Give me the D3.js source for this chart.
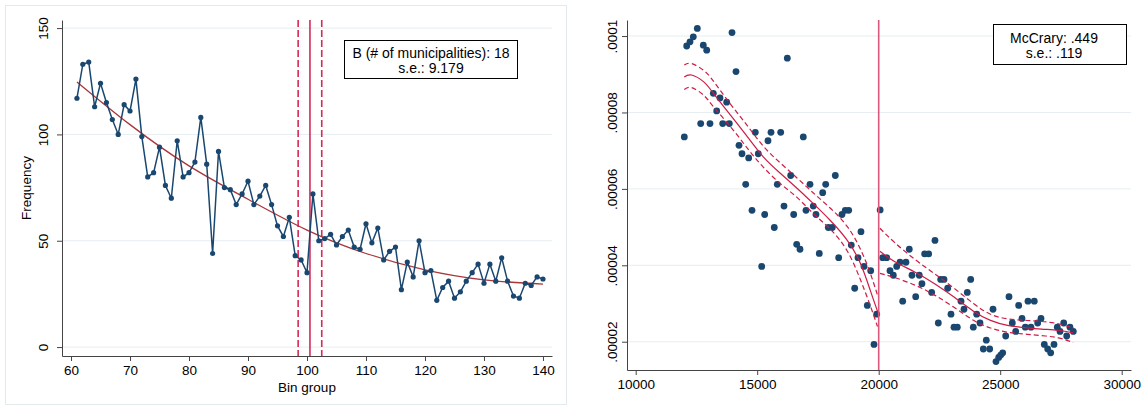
<!DOCTYPE html>
<html>
<head>
<meta charset="utf-8">
<script src="https://cdn.jsdelivr.net/npm/d3@7"></script>
<style>
  body { margin: 0; background: #fff; }
  text { font-family: "Liberation Sans", Arial, sans-serif; font-size: 13.5px; fill: #000; }
  .note { font-size: 14px; }
</style>
</head>
<body>
<div class="chart__container"></div>
<script>
// ---- left panel: frequency by bin group ----
const binGroup = [61, 62, 63, 64, 65, 66, 67, 68, 69, 70, 71, 72, 73, 74, 75, 76, 77, 78, 79, 80,
  81, 82, 83, 84, 85, 86, 87, 88, 89, 90, 91, 92, 93, 94, 95, 96, 97, 98, 99, 100,
  101, 102, 103, 104, 105, 106, 107, 108, 109, 110, 111, 112, 113, 114, 115, 116, 117, 118, 119, 120,
  121, 122, 123, 124, 125, 126, 127, 128, 129, 130, 131, 132, 133, 134, 135, 136, 137, 138, 139, 140];
const frequency = [117, 133, 134, 113, 124, 115, 107, 100, 114, 111, 126, 99, 80, 82, 94, 76, 70, 97, 80, 82,
  87, 108, 86, 44, 92, 75, 74, 67, 72, 78, 67, 71, 76, 67, 57, 52, 61, 43, 41, 35,
  72, 50, 51, 53, 48, 52, 55, 47, 46, 58, 49, 56, 41, 45, 47, 27, 40, 33, 50, 35,
  36, 22, 28, 31, 23, 26, 31, 35, 39, 30, 39, 31, 42, 31, 24, 23, 30, 29, 33, 32];
const fitBin = [61, 70, 80, 90, 100, 110, 120, 130, 140];
const fitFreq = [124.7, 104.6, 85.2, 69.5, 55, 44, 36.3, 31.6, 29.6];
const cutoffBins = [98.5, 100.5, 102.5];
const cutoffDashed = [true, false, true];
const freqTicks = [0, 50, 100, 150];
const binTicks = [60, 70, 80, 90, 100, 110, 120, 130, 140];
const leftNote = ["B (# of municipalities): 18", "s.e.: 9.179"];

// ---- right panel: McCrary density test (density in units of 1e-5) ----
const popX = [12000, 12099, 12234, 12370, 12535, 12675, 12782, 12922, 13057, 13195, 13333, 13469, 13580,
  13745, 13852, 13963, 14127, 14251, 14374, 14527, 14650, 14786, 14922, 15045, 15185, 15308, 15444,
  15568, 15703, 15827, 15967, 16103, 16239, 16378, 16502, 16625, 16761, 16897, 17008, 17173, 17308,
  17419, 17555, 17695, 17819, 17926, 18090, 18214, 18353, 18489, 18625, 18765, 18872, 19012, 19148,
  19271, 19395, 19531, 19670, 19807, 19917,
  20060, 20164, 20329, 20465, 20601, 20741, 20876, 20987, 21122, 21259, 21370, 21523, 21670, 21780,
  21891, 22056, 22180, 22316, 22453, 22551, 22687, 22839, 22975, 23098, 23235, 23387, 23510, 23646,
  23785, 23893, 24033, 24169, 24305, 24428, 24568, 24704, 24827, 24938, 25020, 25102, 25226, 25362,
  25498, 25638, 25761, 25897, 26033, 26144, 26267, 26403, 26543, 26679, 26815, 26955, 27078, 27214,
  27350, 27461, 27613, 27737, 27872, 28008];
const popDens = [7.36, 9.74, 9.85, 9.98, 10.20, 7.71, 9.76, 9.63, 7.71, 8.50, 8.04, 8.38, 7.71,
  8.27, 7.71, 10.09, 9.07, 7.14, 6.92, 6.12, 6.81, 5.44, 7.48, 6.92, 3.97, 5.33, 7.26,
  7.48, 4.99, 6.12, 7.48, 5.55, 9.42, 6.35, 5.33, 4.55, 4.42, 7.36, 5.44, 6.12, 5.55,
  5.33, 4.31, 5.90, 6.12, 4.99, 4.99, 6.35, 4.20, 5.33, 5.44, 5.44, 4.53, 3.40, 4.20,
  4.88, 3.97, 2.95, 3.86, 1.93, 2.72,
  5.45, 4.20, 4.20, 3.86, 3.74, 3.97, 4.08, 3.06, 4.08, 4.42, 3.74, 3.18, 3.74, 3.52,
  4.30, 4.30, 3.29, 4.65, 2.49, 3.63, 3.63, 3.40, 2.72, 2.38, 2.38, 3.06, 2.85, 3.29,
  3.63, 2.38, 2.72, 2.49, 1.81, 2.04, 1.81, 2.85, 1.48, 1.59, 1.65, 1.71, 2.15, 3.18,
  2.49, 2.27, 2.95, 2.61, 2.38, 3.06, 2.38, 3.06, 2.49, 2.61, 1.93, 1.81, 1.71, 1.93,
  2.38, 2.27, 2.49, 2.15, 2.38, 2.27];
const fitLeftX = [12000, 12300, 12800, 13200, 13900, 14600, 15250, 15950, 16650, 17300, 18000, 18700, 19250, 19650, 19950];
const fitLeftMid = [8.93, 8.98, 8.80, 8.50, 7.93, 7.36, 6.84, 6.41, 6.01, 5.62, 5.18, 4.66, 4.05, 3.35, 2.80];
const fitLeftHi = [9.24, 9.28, 9.10, 8.82, 8.22, 7.65, 7.12, 6.68, 6.28, 5.90, 5.50, 5.02, 4.42, 3.80, 3.22];
const fitLeftLo = [8.60, 8.65, 8.45, 8.15, 7.63, 7.06, 6.57, 6.14, 5.77, 5.36, 4.95, 4.38, 3.62, 2.95, 2.40];
const fitRightX = [20050, 20650, 21500, 22300, 23100, 23900, 24600, 25300, 26000, 26700, 27400, 28000];
const fitRightMid = [4.37, 4.10, 3.82, 3.52, 3.17, 2.80, 2.56, 2.43, 2.37, 2.33, 2.30, 2.23];
const fitRightHi = [4.97, 4.60, 4.15, 3.78, 3.40, 3.00, 2.72, 2.60, 2.56, 2.53, 2.47, 2.36];
const fitRightLo = [3.79, 3.68, 3.48, 3.22, 2.90, 2.56, 2.36, 2.25, 2.20, 2.16, 2.10, 1.98];
const cutoffPop = 20000;
const densTicks = [2, 4, 6, 8, 10];
const densLabels = [".00002", ".00004", ".00006", ".00008", ".0001"];
const popTicks = [10000, 15000, 20000, 25000, 30000];
const rightNote = ["McCrary: .449", "s.e.: .119"];

const navy = "#1a476f";
const grid = "#e6eef1";
const axisColor = "#444";

const svg = d3.select(".chart__container")
  .append("svg")
  .attr("width", 1146)
  .attr("height", 410);

function styleAxis(g) {
  g.select(".domain").attr("stroke", axisColor);
  g.selectAll(".tick line").attr("stroke", axisColor);
  g.selectAll("text").style("font-size", "13.5px").attr("fill", "#000");
}

// =================== LEFT ===================
svg.append("rect")
  .attr("x", 5.5).attr("y", 5.5)
  .attr("width", 561).attr("height", 399)
  .attr("fill", "none")
  .attr("stroke", "#e3eaed");

const xL = d3.scaleLinear().domain([58.47, 141.53]).range([62, 552]);
const yL = d3.scaleLinear().domain([-4.2, 153.8]).range([356, 20]);

const left = svg.append("g");

// grid
left.append("g")
  .selectAll("line")
  .data(freqTicks)
  .enter()
  .append("line")
  .attr("x1", xL.range()[0]).attr("x2", xL.range()[1])
  .attr("y1", (d) => yL(d)).attr("y2", (d) => yL(d))
  .attr("stroke", grid);

const yAxisL = left.append("g")
  .attr("transform", `translate(${xL.range()[0]},0)`)
  .call(d3.axisLeft(yL).tickValues(freqTicks).tickSize(5).tickSizeOuter(0));
styleAxis(yAxisL);
yAxisL.selectAll("text")
  .attr("dy", null)
  .attr("text-anchor", "middle")
  .attr("transform", "rotate(-90)")
  .attr("x", 0).attr("y", -14);

const xAxisL = left.append("g")
  .attr("transform", `translate(0,${yL.range()[0]})`)
  .call(d3.axisBottom(xL).tickValues(binTicks).tickSize(5).tickSizeOuter(0));
styleAxis(xAxisL);
xAxisL.selectAll("text").attr("y", 9).attr("dy", "0.71em");

left.append("text")
  .attr("transform", `translate(31,${(yL.range()[0] + yL.range()[1]) / 2}) rotate(-90)`)
  .attr("text-anchor", "middle")
  .text("Frequency");

left.append("text")
  .attr("x", (xL.range()[0] + xL.range()[1]) / 2)
  .attr("y", 392)
  .attr("text-anchor", "middle")
  .text("Bin group");

// cutoff lines
left.append("g")
  .selectAll("line")
  .data(cutoffBins)
  .enter()
  .append("line")
  .attr("x1", (d) => xL(d)).attr("x2", (d) => xL(d))
  .attr("y1", yL.range()[1]).attr("y2", yL.range()[0])
  .attr("stroke", "#d62a58")
  .attr("stroke-width", 1.6)
  .attr("stroke-dasharray", (d, i) => (cutoffDashed[i] ? "7,3" : null));

// fitted curve
const fitLine = d3.line()
  .x((d, i) => xL(fitBin[i]))
  .y((d) => yL(d))
  .curve(d3.curveNatural);

left.append("path")
  .datum(fitFreq)
  .attr("fill", "none")
  .attr("stroke", "#a8363c")
  .attr("stroke-width", 1.3)
  .attr("d", fitLine);

// frequency series
const freqLine = d3.line()
  .x((d, i) => xL(binGroup[i]))
  .y((d) => yL(d));

left.append("path")
  .datum(frequency)
  .attr("fill", "none")
  .attr("stroke", navy)
  .attr("stroke-width", 1.5)
  .attr("d", freqLine);

left.append("g")
  .selectAll("circle")
  .data(frequency)
  .enter()
  .append("circle")
  .attr("cx", (d, i) => xL(binGroup[i]))
  .attr("cy", (d) => yL(d))
  .attr("r", 2.6)
  .attr("fill", navy);

// note box
left.append("rect")
  .attr("x", 344.5).attr("y", 40.5)
  .attr("width", 173).attr("height", 38)
  .attr("fill", "#fff")
  .attr("stroke", "#000");

left.append("g")
  .selectAll("text")
  .data(leftNote)
  .enter()
  .append("text")
  .attr("class", "note")
  .attr("x", 431)
  .attr("y", (d, i) => 57.5 + i * 15)
  .attr("text-anchor", "middle")
  .text((d) => d);

// =================== RIGHT ===================
const xR = d3.scaleLinear().domain([9642, 30383]).range([627, 1131]);
const yR = d3.scaleLinear().domain([1.26, 10.42]).range([370, 20]);

const right = svg.append("g");

right.append("g")
  .selectAll("line")
  .data(densTicks)
  .enter()
  .append("line")
  .attr("x1", xR.range()[0]).attr("x2", xR.range()[1])
  .attr("y1", (d) => yR(d)).attr("y2", (d) => yR(d))
  .attr("stroke", grid);

const yAxisR = right.append("g")
  .attr("transform", `translate(${xR.range()[0]},0)`)
  .call(d3.axisLeft(yR).tickValues(densTicks).tickSize(5).tickSizeOuter(0)
    .tickFormat((d, i) => densLabels[i]));
styleAxis(yAxisR);
yAxisR.selectAll("text")
  .attr("dy", null)
  .attr("text-anchor", "middle")
  .attr("transform", "rotate(-90)")
  .attr("x", 0).attr("y", -10.5);

const xAxisR = right.append("g")
  .attr("transform", `translate(0,${yR.range()[0]})`)
  .call(d3.axisBottom(xR).tickValues(popTicks).tickSize(5).tickSizeOuter(0).tickFormat(d3.format("d")));
styleAxis(xAxisR);
xAxisR.selectAll("text").attr("y", 9).attr("dy", "0.71em");

// scatter
right.append("g")
  .selectAll("circle")
  .data(popDens)
  .enter()
  .append("circle")
  .attr("cx", (d, i) => xR(popX[i]))
  .attr("cy", (d) => yR(d))
  .attr("r", 3.4)
  .attr("fill", navy);

// density fit and confidence bands
function fitPath(xs, ys, dashed) {
  const line = d3.line()
    .x((d, i) => xR(xs[i]))
    .y((d) => yR(d))
    .curve(d3.curveNatural);
  right.append("path")
    .datum(ys)
    .attr("fill", "none")
    .attr("stroke", "#cf1b45")
    .attr("stroke-width", 1.2)
    .attr("stroke-dasharray", dashed ? "5,3" : null)
    .attr("d", line);
}
fitPath(fitLeftX, fitLeftMid, false);
fitPath(fitLeftX, fitLeftHi, true);
fitPath(fitLeftX, fitLeftLo, true);
fitPath(fitRightX, fitRightMid, false);
fitPath(fitRightX, fitRightHi, true);
fitPath(fitRightX, fitRightLo, true);

right.append("line")
  .attr("x1", xR(cutoffPop)).attr("x2", xR(cutoffPop))
  .attr("y1", yR.range()[1]).attr("y2", yR.range()[0])
  .attr("stroke", "#d9587c")
  .attr("stroke-width", 1.6);

right.append("rect")
  .attr("x", 993.5).attr("y", 24.5)
  .attr("width", 133).attr("height", 40)
  .attr("fill", "#fff")
  .attr("stroke", "#000");

right.append("g")
  .selectAll("text")
  .data(rightNote)
  .enter()
  .append("text")
  .attr("class", "note")
  .attr("x", 1054)
  .attr("y", (d, i) => 43 + i * 15)
  .attr("text-anchor", "middle")
  .text((d) => d);
</script>
</body>
</html>
